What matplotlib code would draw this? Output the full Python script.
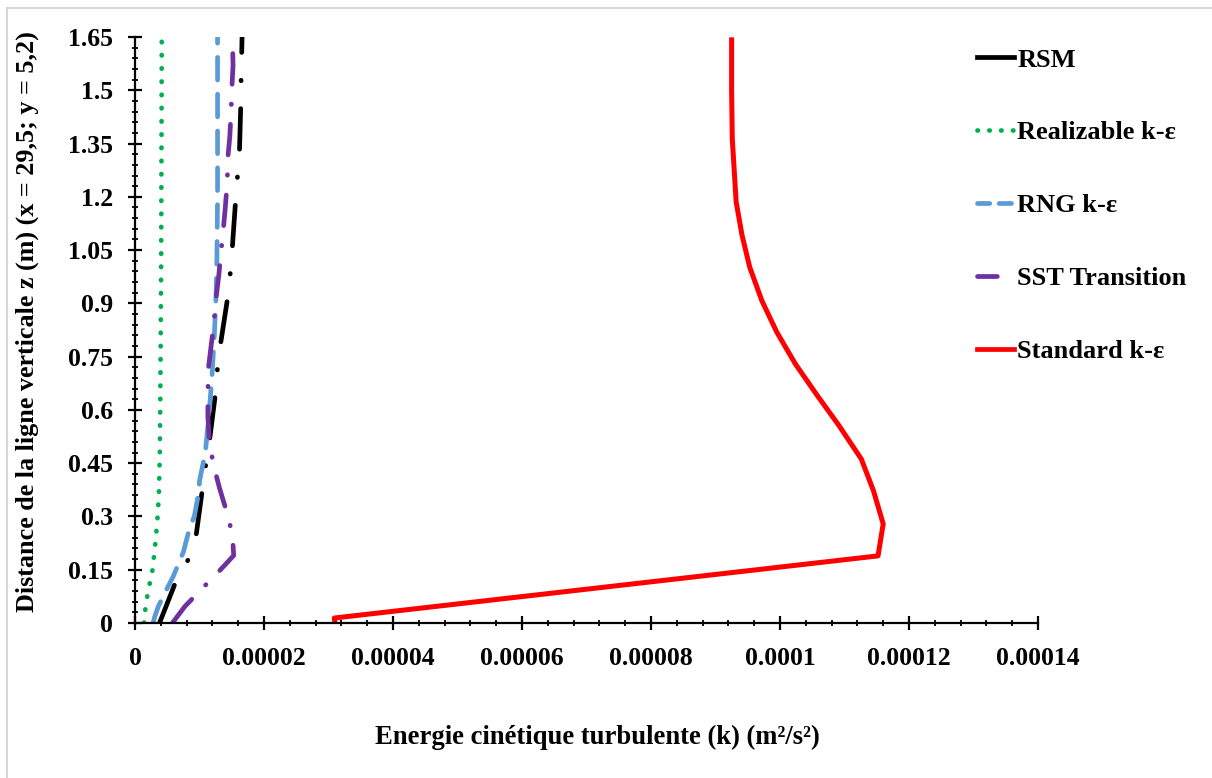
import matplotlib
matplotlib.use("Agg")
import matplotlib.pyplot as plt
from matplotlib.lines import Line2D
from matplotlib.ticker import MultipleLocator, FixedLocator

plt.rcParams['font.family'] = ['Liberation Serif', 'DejaVu Serif']
plt.rcParams['font.weight'] = 'bold'

# vertical positions z (m) and turbulent kinetic energy k (m2/s2)
z_rsm = [0.0, 0.06, 0.12, 0.18, 0.25, 0.37, 0.45, 0.52, 0.65, 0.72, 0.79, 0.92,
         0.99, 1.06, 1.19, 1.26, 1.33, 1.46, 1.53, 1.65]
k_rsm = [3.8e-6, 5.1e-6, 6.4e-6, 8.3e-6, 9.5e-6, 1.04e-5, 1.10e-5, 1.16e-5, 1.25e-5,
         1.28e-5, 1.33e-5, 1.44e-5, 1.48e-5, 1.51e-5, 1.56e-5, 1.59e-5, 1.62e-5,
         1.64e-5, 1.645e-5, 1.66e-5]

z_real = [0.0, 0.032, 0.065, 0.104, 0.14, 0.21, 0.285, 0.36, 0.48, 0.70, 1.0, 1.3, 1.65]
k_real = [1.4e-6, 1.55e-6, 1.8e-6, 2.2e-6, 2.65e-6, 3.08e-6, 3.45e-6, 3.7e-6, 3.85e-6,
          3.95e-6, 4.05e-6, 4.1e-6, 4.15e-6]

z_rng = [0.0, 0.02, 0.046, 0.084, 0.13, 0.2, 0.27, 0.30, 0.37, 0.40, 0.48, 0.59,
         0.70, 0.81, 0.92, 1.03, 1.2, 1.4, 1.65]
k_rng = [2.8e-6, 3.1e-6, 3.6e-6, 4.6e-6, 5.9e-6, 7.5e-6, 8.5e-6, 9.2e-6, 9.9e-6,
         1.0e-5, 1.09e-5, 1.15e-5, 1.195e-5, 1.23e-5, 1.256e-5, 1.27e-5, 1.28e-5,
         1.28e-5, 1.28e-5]

z_sst = [0.0, 0.046, 0.095, 0.145, 0.19, 0.25, 0.32, 0.38, 0.45, 0.52, 0.58, 0.65,
         0.72, 0.78, 0.84, 0.92, 0.98, 1.04, 1.09, 1.17, 1.24, 1.31, 1.37, 1.44,
         1.5, 1.57, 1.65]
k_sst = [5.8e-6, 7.7e-6, 1.03e-5, 1.30e-5, 1.53e-5, 1.51e-5, 1.41e-5, 1.31e-5,
         1.21e-5, 1.15e-5, 1.13e-5, 1.13e-5, 1.14e-5, 1.18e-5, 1.22e-5, 1.26e-5,
         1.30e-5, 1.33e-5, 1.36e-5, 1.40e-5, 1.43e-5, 1.44e-5, 1.47e-5, 1.49e-5,
         1.50e-5, 1.52e-5, 1.51e-5]

z_std = [0.0, 0.014, 0.189, 0.279, 0.372, 0.462, 0.557, 0.64, 0.729, 0.819, 0.907,
         1.002, 1.093, 1.186, 1.364, 1.5, 1.642]
k_std = [3.1e-5, 3.09e-5, 1.152e-4, 1.160e-4, 1.145e-4, 1.126e-4, 1.091e-4, 1.058e-4,
         1.024e-4, 0.995e-4, 0.972e-4, 0.953e-4, 0.941e-4, 0.932e-4, 0.926e-4,
         0.925e-4, 0.925e-4]

xticks = [0, 0.00002, 0.00004, 0.00006, 0.00008, 0.0001, 0.00012, 0.00014]
xticklabels = ['0', '0.00002', '0.00004', '0.00006', '0.00008', '0.0001', '0.00012', '0.00014']
yticks = [0, 0.15, 0.3, 0.45, 0.6, 0.75, 0.9, 1.05, 1.2, 1.35, 1.5, 1.65]
yticklabels = ['0', '0.15', '0.3', '0.45', '0.6', '0.75', '0.9', '1.05', '1.2', '1.35', '1.5', '1.65']

fig = plt.figure(figsize=(12.12, 7.78), dpi=100)
ax = fig.add_axes([135 / 1212, 1 - 623 / 778, (1038 - 135) / 1212, (623 - 37) / 778])

lw = 3.4
ax.plot(k_rsm, z_rsm, color='black', lw=lw, linestyle=(0, (8.6, 5.9, 0.1, 5.9)),
        dash_capstyle='round', label='RSM')
ax.plot(k_real, z_real, color='#00b050', lw=lw, linestyle=(0, (0.1, 2.7)),
        dash_capstyle='round', label='Realizable k-ε')
ax.plot(k_rng, z_rng, color='#5b9bd5', lw=lw, linestyle=(0, (4.8, 3.0)),
        dash_capstyle='round', label='RNG k-ε')
ax.plot(k_sst, z_sst, color='#7030a0', lw=lw, linestyle=(0, (6.5, 4.2, 0.1, 4.2)),
        dash_capstyle='round', label='SST Transition')
ax.plot(k_std, z_std, color='#ff0000', lw=3.6, label='Standard k-ε')

ax.set_xlim(0, 0.00014)
ax.set_ylim(0, 1.65)
ax.xaxis.set_major_locator(FixedLocator(xticks))
ax.set_xticklabels(xticklabels)
ax.yaxis.set_major_locator(FixedLocator(yticks))
ax.set_yticklabels(yticklabels)
ax.xaxis.set_minor_locator(MultipleLocator(0.000004))
ax.yaxis.set_minor_locator(MultipleLocator(0.03))

for s in ['top', 'right']:
    ax.spines[s].set_visible(False)
for s in ['left', 'bottom']:
    ax.spines[s].set_linewidth(1.6)
ax.tick_params(which='major', direction='inout', length=10, width=1.6, labelsize=18.5)
ax.tick_params(axis='x', which='major', pad=12)
ax.tick_params(axis='y', which='major', pad=11)
ax.tick_params(which='minor', direction='inout', length=5, width=1.3)
for lab in ax.get_xticklabels() + ax.get_yticklabels():
    lab.set_fontweight('bold')

ax.set_xlabel('Energie cinétique turbulente (k) (m²/s²)', fontsize=19.2, fontweight='bold')
ax.set_ylabel('Distance de la ligne verticale z (m) (x = 29,5; y = 5,2)',
              fontsize=18.8, fontweight='bold')
ax.xaxis.set_label_coords((597 - 135) / 903, (623 - 737) / 586)
ax.xaxis.label.set_va('center')
ax.yaxis.set_label_coords((27 - 135) / 903, (623 - 322) / 586)
ax.yaxis.label.set_va('center')

handles = [
    Line2D([], [], color='black', lw=lw),
    Line2D([], [], color='#00b050', lw=lw, linestyle=(0, (0.1, 2.4)), dash_capstyle='round'),
    Line2D([], [], color='#5b9bd5', lw=lw, linestyle=(0, (2.6, 2.0)), dash_capstyle='round'),
    Line2D([], [], color='#7030a0', lw=lw, linestyle=(0, (4.2, 20)), dash_capstyle='round'),
    Line2D([], [], color='#ff0000', lw=lw),
]
labels = ['RSM', 'Realizable k-ε', 'RNG k-ε', 'SST Transition', 'Standard k-ε']
fig.legend(handles, labels, loc='upper left', bbox_to_anchor=(964 / 1212, 1 - 35 / 778),
           frameon=False, prop={'size': 19, 'weight': 'bold'}, handlelength=1.4,
           handletextpad=0.12, labelspacing=1.87, borderpad=0)

# light frame on the left and top edges
fig.add_artist(Line2D([7 / 1212, 7 / 1212], [0, 1 - 8 / 778], color='#d0d0d0', lw=1.2,
                      transform=fig.transFigure))
fig.add_artist(Line2D([7 / 1212, 1], [1 - 8 / 778, 1 - 8 / 778], color='#d0d0d0', lw=1.2,
                      transform=fig.transFigure))

fig.savefig('out.png', dpi=100)
